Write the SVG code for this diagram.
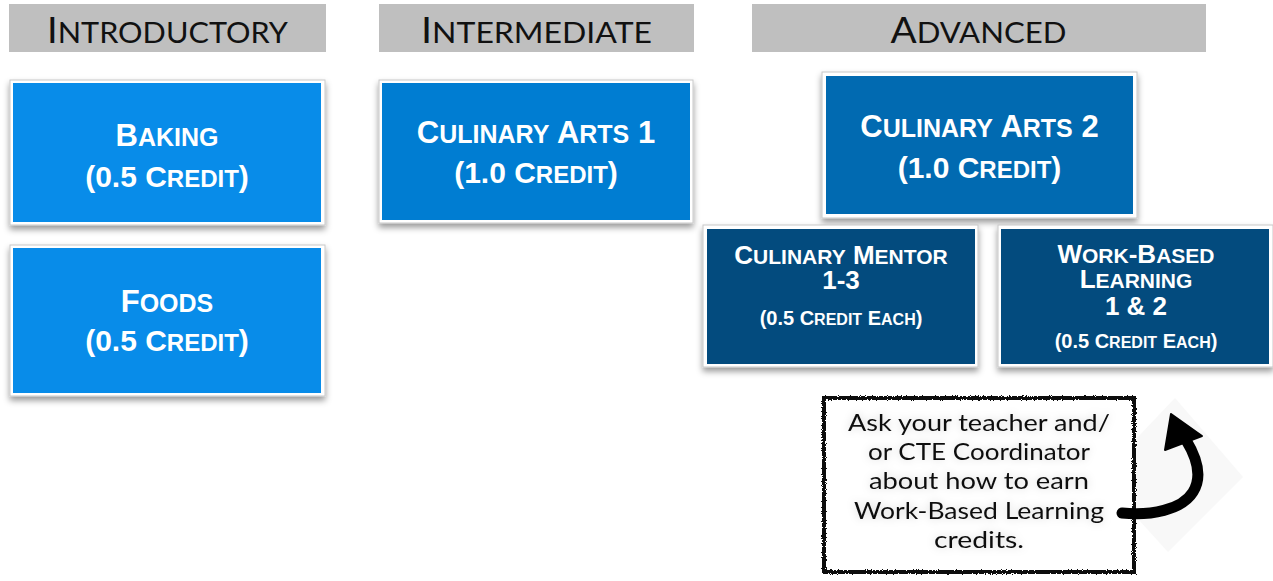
<svg xmlns="http://www.w3.org/2000/svg" width="1273" height="581" viewBox="0 0 1273 581">
<style>
.hdr{fill:#bfbfbf}
.htxt{font-family:Lato,"Open Sans",sans-serif;font-size:36px;fill:#111;text-anchor:middle}
.hs{font-size:29px}
.frame{fill:#fff;stroke:#c8c8c8;stroke-width:1}
.b1{fill:#088ce9}
.b2{fill:#007dd2}
.b3{fill:#016ab1}
.b4{fill:#034b7e}
.t{font-family:"Liberation Sans",Arial,Helvetica,sans-serif;font-weight:bold;fill:#fff;text-anchor:middle}
.note{font-family:Lato,"Open Sans",sans-serif;font-size:24px;fill:#111;text-anchor:middle}
</style>
<defs>
<filter id="sh" x="-10%" y="-10%" width="120%" height="130%">
<feDropShadow dx="0" dy="4" stdDeviation="3" flood-color="#000" flood-opacity="0.4"/>
</filter>
<filter id="glow" x="-10%" y="-10%" width="120%" height="120%">
<feGaussianBlur in="SourceAlpha" stdDeviation="4" result="b"/>
<feFlood flood-color="#000" flood-opacity="0.18"/>
<feComposite in2="b" operator="in"/>
<feMerge><feMergeNode/><feMergeNode in="SourceGraphic"/></feMerge>
</filter>
<filter id="rough" x="-5%" y="-5%" width="110%" height="110%">
<feTurbulence type="fractalNoise" baseFrequency="1.2" numOctaves="2" seed="3"/>
<feDisplacementMap in="SourceGraphic" scale="3.5"/>
</filter>
</defs>

<g id="header-introductory">
<rect class="hdr" x="9" y="4" width="317" height="48"/>
<text class="htxt" x="167.5" y="43" textLength="241" lengthAdjust="spacingAndGlyphs">I<tspan class="hs">NTRODUCTORY</tspan></text>
</g>
<g id="header-intermediate">
<rect class="hdr" x="379" y="4" width="315" height="48"/>
<text class="htxt" x="536.5" y="43" textLength="231" lengthAdjust="spacingAndGlyphs">I<tspan class="hs">NTERMEDIATE</tspan></text>
</g>
<g id="header-advanced">
<rect class="hdr" x="752" y="4" width="454" height="48"/>
<text class="htxt" x="978.5" y="43" textLength="176" lengthAdjust="spacingAndGlyphs">A<tspan class="hs">DVANCED</tspan></text>
</g>

<g id="baking">
<rect class="frame" x="10" y="80" width="315" height="145" filter="url(#sh)"/>
<rect class="b1" x="13" y="83" width="308" height="139"/>
<text class="t" x="167" y="146" font-size="31">B<tspan font-size="25">AKING</tspan></text>
<text class="t" x="167" y="187" font-size="30">(0.5 C<tspan font-size="24">REDIT</tspan>)</text>
</g>

<g id="foods">
<rect class="frame" x="10" y="245" width="315" height="151" filter="url(#sh)"/>
<rect class="b1" x="13" y="248" width="308" height="145"/>
<text class="t" x="167" y="312" font-size="31">F<tspan font-size="25">OODS</tspan></text>
<text class="t" x="167" y="351" font-size="30">(0.5 C<tspan font-size="24">REDIT</tspan>)</text>
</g>

<g id="culinary-arts-1">
<rect class="frame" x="379" y="80" width="314" height="143" filter="url(#sh)"/>
<rect class="b2" x="382" y="83" width="308" height="137"/>
<text class="t" x="536" y="143" font-size="31">C<tspan font-size="25">ULINARY</tspan> A<tspan font-size="25">RTS</tspan> 1</text>
<text class="t" x="536" y="183" font-size="30">(1.0 C<tspan font-size="24">REDIT</tspan>)</text>
</g>

<g id="culinary-arts-2">
<rect class="frame" x="822" y="72" width="315" height="146" filter="url(#sh)"/>
<rect class="b3" x="826" y="76" width="307" height="138"/>
<text class="t" x="979.5" y="137" font-size="31">C<tspan font-size="25">ULINARY</tspan> A<tspan font-size="25">RTS</tspan> 2</text>
<text class="t" x="979.5" y="178" font-size="30">(1.0 C<tspan font-size="24">REDIT</tspan>)</text>
</g>

<g id="culinary-mentor">
<rect class="frame" x="703" y="225" width="275" height="142" filter="url(#sh)"/>
<rect class="b4" x="707" y="229" width="268" height="135"/>
<text class="t" x="841" y="264" font-size="26">C<tspan font-size="21">ULINARY</tspan> M<tspan font-size="21">ENTOR</tspan></text>
<text class="t" x="841" y="289" font-size="26">1-3</text>
<text class="t" x="841" y="325" font-size="20">(0.5 C<tspan font-size="16">REDIT</tspan> E<tspan font-size="16">ACH</tspan>)</text>
</g>

<g id="work-based-learning">
<rect class="frame" x="998" y="225" width="275" height="142" filter="url(#sh)"/>
<rect class="b4" x="1001" y="229" width="268" height="135"/>
<text class="t" x="1136" y="263" font-size="26">W<tspan font-size="21">ORK</tspan>-B<tspan font-size="21">ASED</tspan></text>
<text class="t" x="1136" y="288" font-size="26">L<tspan font-size="21">EARNING</tspan></text>
<text class="t" x="1136" y="315" font-size="26">1 &amp; 2</text>
<text class="t" x="1136" y="348" font-size="20">(0.5 C<tspan font-size="16">REDIT</tspan> E<tspan font-size="16">ACH</tspan>)</text>
</g>

<g id="note">
<polygon points="1175,398 1243,477 1168,552 1100,477" fill="#f8f8f8"/>
<rect x="823" y="397" width="312" height="176" fill="#fff"/>
<rect x="824" y="398" width="310" height="174" fill="none" stroke="#111" stroke-width="4" filter="url(#rough)"/>
<g filter="url(#glow)">
<text class="note" x="979" y="431" textLength="262" lengthAdjust="spacingAndGlyphs">Ask your teacher and/</text>
<text class="note" x="979" y="460" textLength="222" lengthAdjust="spacingAndGlyphs">or CTE Coordinator</text>
<text class="note" x="979" y="489" textLength="220" lengthAdjust="spacingAndGlyphs">about how to earn</text>
<text class="note" x="979" y="519" textLength="250" lengthAdjust="spacingAndGlyphs">Work-Based Learning</text>
<text class="note" x="979" y="548" textLength="90" lengthAdjust="spacingAndGlyphs">credits.</text>
</g>
</g>

<g id="connectors">
<path d="M1122,513 C1150,516 1182,510 1193,492 C1203,476 1197,458 1186,440" fill="none" stroke="#000" stroke-width="11" stroke-linecap="round"/>
<polygon points="1171,414 1202,436 1165,450" fill="#000" stroke="#000" stroke-width="2" stroke-linejoin="round"/>
</g>
</svg>
